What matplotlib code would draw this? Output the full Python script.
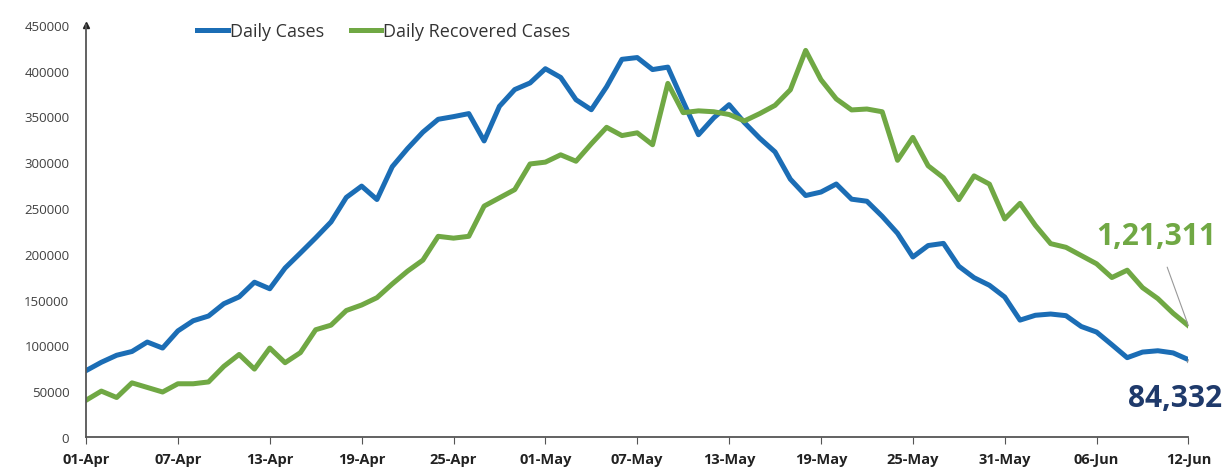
import matplotlib

matplotlib.use('Agg')
import matplotlib.pyplot as plt

# daily values, 01-Apr to 12-Jun
daily_cases = [72330, 81466, 89129, 93249, 103558, 96982, 115736, 126789, 131968, 145384,
               152879, 168912, 161736, 184372, 200739, 217353, 234692, 261500, 273810, 259170,
               295041, 314835, 332730, 346786, 349691, 352991, 323144, 360960, 379257, 386452,
               401993, 392488, 368147, 357229, 382315, 412262, 414188, 401078, 403738, 366161,
               329942, 348421, 362727, 343144, 326098, 311170, 281386, 263533, 267334, 276110,
               259551, 257299, 240842, 222315, 196427, 208921, 211298, 186364, 173790, 165553,
               152734, 127510, 132788, 134154, 132364, 120529, 114460, 100636, 86498, 92596,
               94052, 91702, 84332]
recovered = [40000, 50000, 43000, 59000, 54000, 49000, 58000, 58000, 60000, 77000,
             90000, 74000, 97000, 81000, 92000, 117000, 122000, 138000, 144000, 152000,
             167000, 181000, 193000, 219000, 217000, 219000, 252000, 261000, 270000, 298000,
             300000, 308000, 301000, 320000, 338000, 329000, 332000, 319000, 386000, 354000,
             356000, 355000, 352000, 345000, 353000, 362000, 379000, 422000, 390000, 369000,
             357000, 358000, 355000, 302000, 327000, 296000, 283000, 259000, 285000, 276000,
             238000, 255000, 231000, 211000, 207000, 198000, 189000, 174000, 182000, 163000,
             151000, 135000, 121311]
tick_labels = ['01-Apr', '07-Apr', '13-Apr', '19-Apr', '25-Apr', '01-May', '07-May',
               '13-May', '19-May', '25-May', '31-May', '06-Jun', '12-Jun']
last_cases_label = '84,332'
last_recovered_label = '1,21,311'

plt.rcParams['font.family'] = ['Open Sans', 'DejaVu Sans']

fig = plt.figure(figsize=(12.29, 4.77), dpi=100)
ax = fig.add_axes([0.070, 0.082, 0.897, 0.864])

days = list(range(len(daily_cases)))
ax.plot(days, daily_cases, color='#1b6db5', lw=3.6, label='Daily Cases',
        solid_joinstyle='round')
ax.plot(days, recovered, color='#70a844', lw=3.6, label='Daily Recovered Cases',
        solid_joinstyle='round')

ax.set_xlim(0, len(days) - 1)
ax.set_ylim(0, 450000)
ax.set_yticks(range(0, 450001, 50000))
ax.set_xticks(range(0, len(days), 6))
ax.set_xticklabels(tick_labels, fontweight='bold', fontsize=10.5, color='#222222')
ax.tick_params(axis='y', length=0, labelsize=9.5, labelcolor='#404040', pad=12)
ax.tick_params(axis='x', length=5, color='#555555', pad=6)

for side in ['top', 'right']:
    ax.spines[side].set_visible(False)
for side in ['left', 'bottom']:
    ax.spines[side].set_color('#555555')
    ax.spines[side].set_linewidth(1.3)
ax.plot(0, 1.0, marker='^', color='#222222', markersize=5, transform=ax.transAxes, clip_on=False)

ax.legend(loc='upper left', bbox_to_anchor=(0.086, 1.045), ncol=2, frameon=False,
          fontsize=13, handlelength=1.7, handletextpad=0.1, columnspacing=1.5,
          labelcolor='#333333')

# end labels
x_end = days[-1]
ax.annotate(last_recovered_label, xy=(x_end, recovered[-1]), xytext=(x_end + 1.8, 219000),
            fontsize=21.5, fontweight='bold', color='#70a844', ha='right', va='center',
            annotation_clip=False,
            arrowprops=dict(arrowstyle='-', color='#999999', lw=0.8, shrinkA=10, shrinkB=0))
ax.annotate(last_cases_label, xy=(x_end, daily_cases[-1]), xytext=(x_end + 2.2, 43000),
            fontsize=21.5, fontweight='bold', color='#1f3a6b', ha='right', va='center',
            annotation_clip=False,
            arrowprops=dict(arrowstyle='-', color='#999999', lw=0.8, shrinkA=13, shrinkB=0))

plt.savefig('out.png', dpi=100)
plt.close()
